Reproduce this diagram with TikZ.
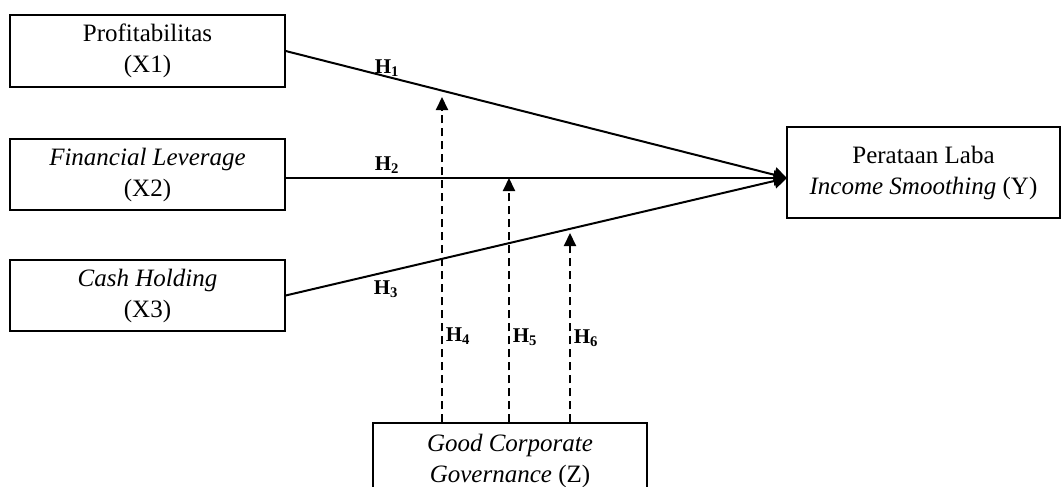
\documentclass[tikz,border=0pt]{standalone}
\usepackage{fontspec}
\setmainfont{Liberation Serif}
\usetikzlibrary{arrows.meta}
\tikzset{
  varbox/.style={draw, line width=1.3pt, align=center, inner sep=0pt,
    font=\fontsize{25}{31}\selectfont},
  mainarrow/.style={line width=2pt, -{Triangle[length=13pt,width=15pt]}},
  modarrow/.style={line width=2pt, dash pattern=on 8pt off 5pt, -{Triangle[length=13pt,width=12pt]}},
  hlabel/.style={font=\fontsize{21}{24}\selectfont\bfseries, inner sep=0pt}
}
\begin{document}
\begin{tikzpicture}[x=1pt,y=-1pt]
\useasboundingbox (0,0) rectangle (1061,487);
\node[varbox, minimum width=275pt, minimum height=72pt] (X1) at (147.5,51) {Profitabilitas\\(X1)};
\node[varbox, minimum width=275pt, minimum height=71pt] (X2) at (147.5,174.5) {\textit{Financial Leverage}\\(X2)};
\node[varbox, minimum width=275pt, minimum height=71pt] (X3) at (147.5,295.5) {\textit{Cash Holding}\\(X3)};
\node[varbox, minimum width=273pt, minimum height=91pt] (Y) at (923.5,172.5) {Perataan Laba\\\textit{Income Smoothing} (Y)};
\node[varbox, minimum width=274pt, minimum height=76pt] (Z) at (510,461) {\textit{Good Corporate}\\\textit{Governance} (Z)};
\coordinate (tgt) at (787,178);
\coordinate (t4) at (442,97);
\coordinate (t5) at (509,178);
\coordinate (t6) at (570,233);
\draw[mainarrow] (X1.east) -- (tgt);
\draw[mainarrow] (X2.east |- tgt) -- (tgt);
\draw[mainarrow] (X3.east) -- (tgt);
\draw[modarrow] (t4 |- Z.north) -- (t4);
\draw[modarrow] (t5 |- Z.north) -- (t5);
\draw[modarrow] (t6 |- Z.north) -- (t6);
\node[hlabel] (h1) at (387,68) {H\textsubscript{1}};
\node[hlabel] (h2) at (387,165) {H\textsubscript{2}};
\node[hlabel] (h3) at (386,289) {H\textsubscript{3}};
\node[hlabel] (h4) at (458,336) {H\textsubscript{4}};
\node[hlabel] (h5) at (525,337) {H\textsubscript{5}};
\node[hlabel] (h6) at (586,338) {H\textsubscript{6}};
\end{tikzpicture}
\end{document}
